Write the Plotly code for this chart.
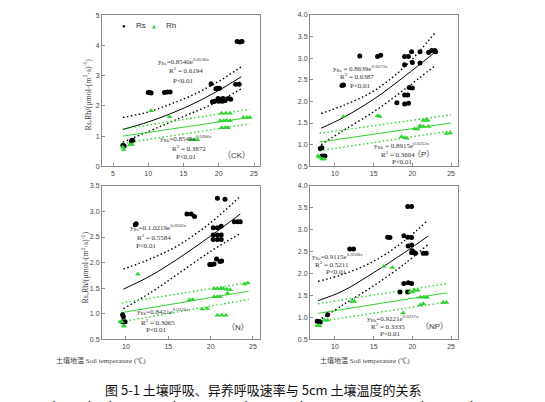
import plotly.graph_objects as go

W, H = 545, 402

# ---------------- data ----------------
# CK
ck_rs_x = [6.4, 6.6, 7.6, 7.8, 10.0, 10.2, 10.4, 12.3, 12.7, 13.1, 18.9, 19.1, 19.4, 19.6, 19.8, 20.1,
           19.9, 20.3, 20.6, 20.0, 20.5, 20.9, 21.4, 21.7, 22.4, 22.9, 22.6, 23.0, 23.3]
ck_rs_y = [0.70, 0.67, 0.83, 0.86, 2.45, 2.45, 2.43, 2.45, 2.46, 2.46, 2.74, 2.14, 2.16, 2.57, 2.59, 2.59,
           2.25, 2.22, 2.25, 2.16, 2.16, 2.18, 2.25, 2.22, 2.72, 2.72, 4.14, 4.12, 4.14]
ck_rh_x = [6.4, 6.5, 7.4, 7.7, 10.4, 13.0, 16.0, 16.5, 17.0, 20.4, 21.0, 21.6, 20.2, 20.7, 21.1, 21.6,
           20.4, 20.9, 21.3, 23.5, 24.0, 24.4]
ck_rh_y = [0.63, 0.56, 0.72, 0.72, 1.84, 1.64, 0.88, 0.88, 0.88, 1.76, 1.76, 1.76, 1.51, 1.51, 1.53, 1.51,
           1.28, 1.28, 1.28, 1.62, 1.62, 1.62]
ck_rs_fit_x = [6.4, 10.0, 13.0, 16.0, 19.5, 23.2]
ck_rs_fit_y = [1.22, 1.47, 1.73, 2.03, 2.45, 2.97]
ck_rs_up_y = [1.62, 1.80, 2.05, 2.33, 2.75, 3.30]
ck_rs_lo_y = [0.80, 1.15, 1.45, 1.75, 2.10, 2.57]
ck_rh_fit_x = [6.4, 24.4]
ck_rh_fit_y = [1.00, 1.62]
ck_rh_up_y = [1.24, 1.89]
ck_rh_lo_y = [0.76, 1.41]

# P
p_rs_x = [8.1, 8.3, 8.3, 8.5, 8.7, 10.9, 11.1, 13.2, 15.5, 15.9, 18.0, 19.0, 19.5, 19.0, 19.0, 19.4,
          19.0, 19.5, 19.9, 20.0, 19.6, 20.0, 21.0, 21.0, 22.1, 22.5, 22.9, 23.0]
p_rs_y = [0.91, 0.93, 0.74, 0.73, 0.74, 2.37, 2.38, 3.05, 3.04, 3.07, 1.97, 3.04, 3.04, 2.85, 2.15, 2.15,
          1.94, 1.96, 3.15, 2.90, 2.32, 2.31, 3.15, 2.89, 3.13, 3.18, 3.18, 3.15]
p_rh_x = [7.8, 8.0, 8.3, 8.6, 11.1, 15.5, 15.8, 18.6, 19.0, 19.3, 20.3, 20.7, 21.0, 21.4, 21.8, 22.0,
          21.4, 22.1, 24.4, 24.9]
p_rh_y = [0.74, 0.71, 0.67, 0.67, 1.65, 1.67, 1.65, 1.18, 1.16, 1.15, 1.36, 1.36, 1.44, 1.56, 1.58, 1.56,
          1.42, 1.42, 1.26, 1.27]
p_rs_fit_x = [8.2, 11.0, 15.0, 19.0, 23.0]
p_rs_fit_y = [1.38, 1.62, 2.05, 2.58, 3.15]
p_rs_up_y = [1.72, 1.90, 2.24, 2.80, 3.60]
p_rs_lo_y = [1.00, 1.32, 1.76, 2.28, 2.84]
p_rh_fit_x = [8.0, 25.0]
p_rh_fit_y = [1.06, 1.50]
p_rh_up_y = [1.26, 1.69]
p_rh_lo_y = [0.86, 1.32]

# N
n_rs_x = [9.6, 9.7, 9.6, 9.9, 11.1, 11.2, 17.2, 17.7, 18.1, 20.8, 21.7, 20.3, 20.8, 21.25, 20.3, 20.8,
          21.25, 20.3, 20.8, 21.25, 19.9, 20.1, 20.4, 20.7, 21.1, 21.3, 22.8, 23.2, 23.5]
n_rs_y = [0.98, 0.94, 0.84, 0.84, 2.74, 2.76, 2.95, 2.95, 2.90, 3.26, 3.24, 2.68, 2.68, 2.71, 2.54, 2.54,
          2.54, 2.45, 2.45, 2.45, 1.96, 1.96, 1.97, 2.07, 2.02, 2.03, 2.80, 2.80, 2.80]
n_rh_x = [9.3, 9.5, 9.7, 9.8, 11.4, 17.5, 17.9, 19.0, 19.6, 20.4, 20.8, 21.2, 20.4, 20.8, 21.1, 21.5,
          21.9, 22.3, 22.0, 20.8, 21.3, 21.8, 24.0, 24.4]
n_rh_y = [0.84, 0.84, 0.76, 0.76, 1.77, 1.27, 1.27, 1.09, 1.10, 1.49, 1.49, 1.49, 1.33, 1.33, 1.33, 1.49,
          1.48, 1.47, 1.40, 0.97, 0.97, 0.97, 1.58, 1.60]
n_rs_fit_x = [9.7, 13.0, 16.0, 20.0, 23.5]
n_rs_fit_y = [1.48, 1.75, 2.06, 2.52, 2.95]
n_rs_up_y = [1.87, 2.08, 2.32, 2.78, 3.30]
n_rs_lo_y = [1.10, 1.42, 1.76, 2.22, 2.57]
n_rh_fit_x = [9.5, 24.5]
n_rh_fit_y = [1.02, 1.44]
n_rh_up_y = [1.21, 1.61]
n_rh_lo_y = [0.84, 1.28]

# NP
np_rs_x = [7.7, 8.0, 8.1, 9.05, 11.9, 12.4, 16.8, 17.1, 18.9, 19.4, 19.9, 19.4, 19.9, 19.45, 19.9, 19.9,
           20.0, 20.2, 20.4, 21.4, 21.8, 18.4, 18.9, 19.45, 19.9, 19.4]
np_rs_y = [0.91, 0.90, 0.89, 1.06, 2.56, 2.56, 2.83, 2.82, 2.86, 3.53, 3.53, 2.83, 2.82, 2.63, 2.65, 2.48,
           2.52, 2.48, 2.46, 2.46, 2.46, 1.58, 1.77, 1.79, 1.77, 1.58]
np_rh_x = [7.7, 8.0, 8.6, 9.05, 12.2, 12.5, 16.3, 17.4, 18.8, 19.7, 20.0, 20.3, 20.7, 21.0, 21.0, 21.4,
           21.5, 21.9, 24.0, 24.4]
np_rh_y = [0.81, 0.81, 0.94, 0.93, 1.36, 1.36, 2.16, 2.14, 1.10, 1.58, 1.58, 1.62, 1.62, 1.46, 1.28, 1.31,
           1.46, 1.46, 1.34, 1.34]
np_rs_fit_x = [7.8, 11.0, 15.0, 19.0, 22.0]
np_rs_fit_y = [1.38, 1.60, 2.02, 2.48, 2.85]
np_rs_up_y = [1.82, 1.98, 2.28, 2.75, 3.22]
np_rs_lo_y = [0.92, 1.28, 1.72, 2.22, 2.66]
np_rh_fit_x = [7.8, 24.5]
np_rh_fit_y = [1.09, 1.56]
np_rh_up_y = [1.31, 1.77]
np_rh_lo_y = [0.90, 1.35]

# tick labels
ck_yticks = [0, 1, 2, 3, 4, 5]
ck_xticks = [5, 10, 15, 20, 25]
half_xticks = [10, 15, 20, 25]
p_yticks = [0.5, 1.0, 1.5, 2.0, 2.5, 3.0, 3.5, 4.0]
n_yticks = [0.5, 1.0, 1.5, 2.0, 2.5, 3.0, 3.5]

series_names = ["Rs", "Rh"]

# ---------------- styling helpers ----------------
GREEN = "#2fd32f"
BLACK = "#000000"


def px(x):
    return x / W


def py(y):
    return 1 - y / H


fig = go.Figure()

panels = [
    ("x", "y", ck_rs_x, ck_rs_y, ck_rh_x, ck_rh_y, ck_rs_fit_x, ck_rs_fit_y, ck_rs_up_y, ck_rs_lo_y,
     ck_rh_fit_x, ck_rh_fit_y, ck_rh_up_y, ck_rh_lo_y),
    ("x2", "y2", p_rs_x, p_rs_y, p_rh_x, p_rh_y, p_rs_fit_x, p_rs_fit_y, p_rs_up_y, p_rs_lo_y,
     p_rh_fit_x, p_rh_fit_y, p_rh_up_y, p_rh_lo_y),
    ("x3", "y3", n_rs_x, n_rs_y, n_rh_x, n_rh_y, n_rs_fit_x, n_rs_fit_y, n_rs_up_y, n_rs_lo_y,
     n_rh_fit_x, n_rh_fit_y, n_rh_up_y, n_rh_lo_y),
    ("x4", "y4", np_rs_x, np_rs_y, np_rh_x, np_rh_y, np_rs_fit_x, np_rs_fit_y, np_rs_up_y, np_rs_lo_y,
     np_rh_fit_x, np_rh_fit_y, np_rh_up_y, np_rh_lo_y),
]

for (xa, ya, rsx, rsy, rhx, rhy, fx, fy, fu, fl, hx, hy, hu, hl) in panels:
    dot = dict(width=1.4, dash="1.5px,2.5px")
    fig.add_trace(go.Scatter(x=fx, y=fu, mode="lines", line=dict(color=BLACK, shape="spline", **dot),
                             xaxis=xa, yaxis=ya, showlegend=False, hoverinfo="skip"))
    fig.add_trace(go.Scatter(x=fx, y=fl, mode="lines", line=dict(color=BLACK, shape="spline", **dot),
                             xaxis=xa, yaxis=ya, showlegend=False, hoverinfo="skip"))
    fig.add_trace(go.Scatter(x=fx, y=fy, mode="lines", line=dict(color=BLACK, width=1, shape="spline"),
                             xaxis=xa, yaxis=ya, showlegend=False, hoverinfo="skip"))
    fig.add_trace(go.Scatter(x=hx, y=hu, mode="lines", line=dict(color=GREEN, **dot),
                             xaxis=xa, yaxis=ya, showlegend=False, hoverinfo="skip"))
    fig.add_trace(go.Scatter(x=hx, y=hl, mode="lines", line=dict(color=GREEN, **dot),
                             xaxis=xa, yaxis=ya, showlegend=False, hoverinfo="skip"))
    fig.add_trace(go.Scatter(x=hx, y=hy, mode="lines", line=dict(color=GREEN, width=1),
                             xaxis=xa, yaxis=ya, showlegend=False, hoverinfo="skip"))
    fig.add_trace(go.Scatter(x=rsx, y=rsy, mode="markers", name=series_names[0],
                             marker=dict(color=BLACK, size=5, symbol="circle"),
                             xaxis=xa, yaxis=ya, showlegend=False))
    fig.add_trace(go.Scatter(x=rhx, y=rhy, mode="markers", name=series_names[1],
                             marker=dict(color=GREEN, size=5, symbol="triangle-up"),
                             xaxis=xa, yaxis=ya, showlegend=False))

axis_common = dict(showline=True, mirror=True, linecolor="#8c8c8c", linewidth=1,
                   ticks="inside", ticklen=3, tickwidth=1, tickcolor="#8c8c8c",
                   showgrid=False, zeroline=False,
                   tickfont=dict(family="Liberation Sans, Arial, sans-serif", size=7, color="#444"))

left_x = [px(94), px(252)]
right_x = [px(302), px(450)]
top_y = [py(157), py(3)]
bot_y = [py(333), py(177)]

fig.update_layout(
    width=W, height=H,
    margin=dict(l=0, r=0, t=0, b=0),
    paper_bgcolor="white", plot_bgcolor="white",
    showlegend=False,
    xaxis=dict(domain=left_x, range=[3.44, 25.85], tickvals=ck_xticks, anchor="y", **axis_common),
    yaxis=dict(domain=top_y, range=[0, 5.02], tickvals=ck_yticks, anchor="x", **axis_common),
    xaxis2=dict(domain=right_x, range=[6.77, 25.9], tickvals=half_xticks, anchor="y2", **axis_common),
    yaxis2=dict(domain=top_y, range=[0.5, 4.0], tickvals=p_yticks, tickformat=".1f", anchor="x2", **axis_common),
    xaxis3=dict(domain=left_x, range=[7.17, 25.83], tickvals=half_xticks, anchor="y3", **axis_common),
    yaxis3=dict(domain=bot_y, range=[0.5, 3.5], tickvals=n_yticks, tickformat=".1f", anchor="x3", **axis_common),
    xaxis4=dict(domain=right_x, range=[6.77, 25.9], tickvals=half_xticks, anchor="y4", **axis_common),
    yaxis4=dict(domain=bot_y, range=[0.5, 4.0], tickvals=p_yticks, tickformat=".1f", anchor="x4", **axis_common),
)

SERIF = "Liberation Serif, Times New Roman, serif"
SANS = "Liberation Sans, Arial, sans-serif"
CJK = "Liberation Serif, Noto Sans CJK SC, serif"


def txt(x, y, text, size=7, family=SERIF, color="#333", angle=0, xanchor="center"):
    fig.add_annotation(x=px(x), y=py(y), xref="paper", yref="paper", text=text, showarrow=False,
                       xanchor=xanchor, yanchor="middle", textangle=angle,
                       font=dict(family=family, size=size, color=color))


# legend (CK panel)
txt(116, 14, "●", size=6, family=SANS, color=BLACK)
txt(126, 14, series_names[0], size=8, family=SANS, color="#333", xanchor="left")
txt(146, 14, "▲", size=5, family="DejaVu Sans, sans-serif", color=GREEN)
txt(156, 14, series_names[1], size=8, family=SANS, color="#333", xanchor="left")

# equations
eqs = [
    (175, 50, "y<sub>Rs</sub>=0.8540e<sup>0.0536x</sup>"), (178, 60, "R<sup>2</sup> = 0.6194"), (175, 70, "P&lt;0.01"),
    (178, 129, "y<sub>Rh</sub>=0.8549e<sup>0.0286x</sup>"), (181, 139, "R<sup>2</sup> = 0.3872"), (178, 148, "P&lt;0.01"),
    (352, 57, "y<sub>Rs</sub> = 0.8639e<sup>0.0573x</sup>"), (349, 66, "R<sup>2</sup> = 0.6387"), (352, 75, "P&lt;0.01"),
    (393, 136, "y<sub>Rh</sub> = 0.8915e<sup>0.0253x</sup>"), (390, 145, "R<sup>2</sup> = 0.3604"), (394, 153, "P&lt;0.01"),
    (150, 219, "y<sub>Rs</sub>=0.1.0219e<sup>0.0502x</sup>"), (146, 229, "R<sup>2</sup> = 0.5584"), (138, 238, "P&lt;0.01"),
    (155, 305, "y<sub>Rh</sub>=0.8421e<sup>0.0226x</sup>"), (150, 316, "R<sup>2</sup> = 0.3065"), (148, 324, "P&lt;0.01"),
    (329, 249, "y<sub>Rs</sub>=0.9115e<sup>0.0508x</sup>"), (324, 257, "R<sup>2</sup> = 0.5211"), (328, 265, "P&lt;0.01"),
    (385, 312, "y<sub>Rh</sub>=0.9221e<sup>0.0237x</sup>"), (380, 320, "R<sup>2</sup> = 0.3335"), (382, 328, "P&lt;0.01"),
]
for x, y, t in eqs:
    txt(x, y, t, size=7)

for x, y, t in [(228, 146, "（CK）"), (415, 145, "（P）"), (230, 321, "（N）"), (426, 320, "（NP）")]:
    txt(x, y, t, size=8, family="Liberation Sans, Noto Sans CJK SC, sans-serif", color="#333")

# axis titles
ytitle = "Rs,Rh/(μmol·(m<sup>2</sup>·s)<sup>-1</sup>)"
txt(79, 84, ytitle, size=8, family=SERIF, color="#444", angle=-90)
txt(77, 260, ytitle, size=8, family=SERIF, color="#444", angle=-90)
xtitle = "土壤地温 Soil temperature (℃)"
txt(93, 355, xtitle, size=7, family=CJK, color="#444")
txt(357, 355, xtitle, size=7, family=CJK, color="#444")

# caption
txt(255, 384, "图 5-1 土壤呼吸、异养呼吸速率与 5cm 土壤温度的关系", size=13,
    family="Noto Sans CJK SC, sans-serif", color="#111")
txt(258, 400, "Fig. 5-1 Relationship between soil respiration, heterotrophic respiration rate and 5cm soil temperature",
    size=13.5, family=SERIF, color="#111")

fig.write_html("out.html")
